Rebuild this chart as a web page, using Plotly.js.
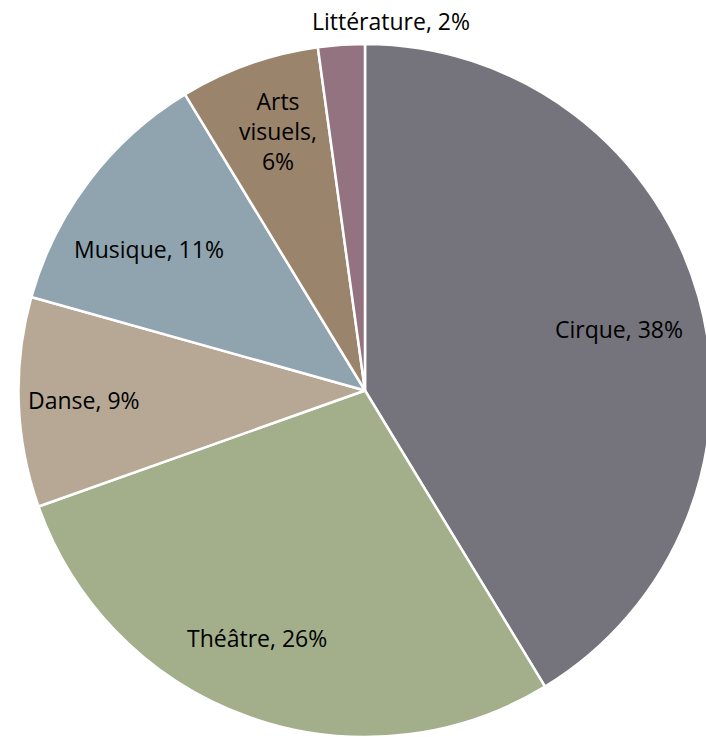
<!DOCTYPE html>
<html>
<head>
<meta charset="utf-8">
<script src="https://cdn.plot.ly/plotly-3.0.1.min.js"></script>
<style>
html,body{margin:0;padding:0;overflow:hidden;background:#fff;}
#chart{width:712px;height:737px;}
</style>
</head>
<body>
<div id="chart"></div>
<script>
// Data
var categories = ["Cirque", "Théâtre", "Danse", "Musique", "Arts visuels", "Littérature"];
var values = [38, 26, 9, 11, 6, 2];
var labelTexts = ["Cirque, 38%", "Théâtre, 26%", "Danse, 9%", "Musique, 11%", "Arts<br>visuels,<br>6%", "Littérature, 2%"];

// Styles / layout
var colors = ["#75737b", "#a3af8a", "#b6a894", "#8fa4af", "#9b846c", "#947380"];
var W = 712, H = 737;
var M = {l: 18, r: 0, t: 44, b: 0};
var labelRadius = [0.755, 0.78, 0.81, 0.745, 0.79, 1.07];
var labelAngleShift = [2, 4, 0, -4, 1, 8];

var total = values.reduce(function(a, b){ return a + b; }, 0);
var pw = W - M.l - M.r, ph = H - M.t - M.b;
var R = Math.min(pw, ph) / 2;
var cx = M.l + pw / 2, cy = M.t + ph / 2;

var annotations = [];
var cum = 0;
for (var i = 0; i < values.length; i++) {
  var mid = (cum + values[i] / 2) / total * 360 + labelAngleShift[i];
  cum += values[i];
  var a = mid * Math.PI / 180;
  var px = cx + R * labelRadius[i] * Math.sin(a);
  var py = cy - R * labelRadius[i] * Math.cos(a);
  annotations.push({
    xref: "paper", yref: "paper",
    x: (px - M.l) / pw, y: 1 - (py - M.t) / ph,
    xanchor: "center", yanchor: "middle",
    text: labelTexts[i], showarrow: false,
    font: {family: "'Open Sans', 'Noto Sans', sans-serif", size: 23, color: "#000"}
  });
}

var trace = {
  type: "pie",
  labels: categories,
  values: values,
  sort: false,
  direction: "clockwise",
  rotation: 0,
  textinfo: "none",
  hoverinfo: "label+value",
  marker: {colors: colors, line: {color: "#ffffff", width: 2.5}},
  showlegend: false
};

var layout = {
  width: W, height: H,
  margin: M,
  paper_bgcolor: "#ffffff",
  showlegend: false,
  annotations: annotations
};

Plotly.newPlot("chart", [trace], layout, {displayModeBar: false, staticPlot: true});
</script>
</body>
</html>
